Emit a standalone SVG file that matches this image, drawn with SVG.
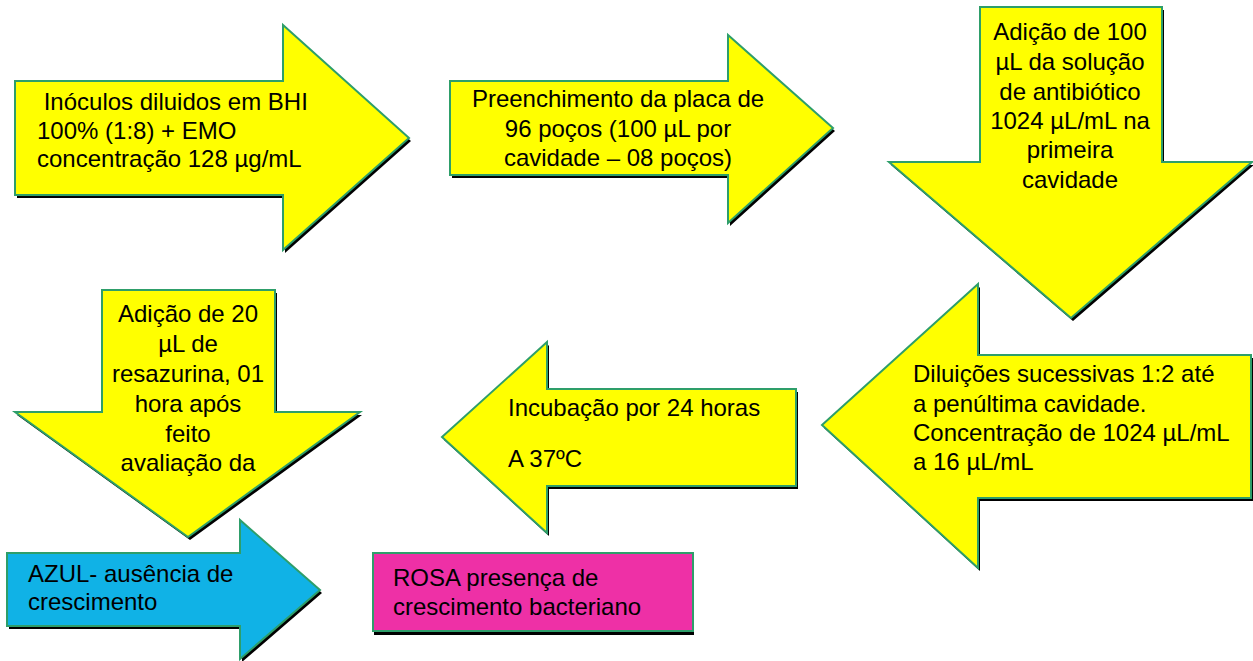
<svg xmlns="http://www.w3.org/2000/svg" xmlns:xlink="http://www.w3.org/1999/xlink" width="1253" height="661" viewBox="0 0 1253 661">
<style>
.sh{fill:#000;stroke:none}
.y{fill:#ffff00;stroke:#2e9e6a;stroke-width:2;stroke-linejoin:miter}
.b{fill:#10b2e6;stroke:#2e9e6a;stroke-width:2}
.p{fill:#ee30a6;stroke:#2e9e6a;stroke-width:2}
text{font-family:"Liberation Sans",Arial,sans-serif;font-size:24px;fill:#000}
.c{text-anchor:middle}
</style>
<defs>
<polygon id="a1" points="15,81 283,81 283,25 409,138 283,250 283,195 15,195"/>
<polygon id="a2" points="450,81 728,81 728,35 833,128 728,223 728,175 450,175"/>
<polygon id="a3" points="980,7 1162,7 1162,162 1252,162 1071,318 889,162 980,162"/>
<polygon id="a4" points="1251,355 978,355 978,284 822,425 978,568 978,498 1251,498"/>
<polygon id="a5" points="796,389 547,389 547,342 442,437 547,533 547,486 796,486"/>
<polygon id="a6" points="102,290 275,290 275,412 360,412 188,537 15,412 102,412"/>
<polygon id="a7" points="7,553 240,553 240,520 320,590 240,659 240,626 7,626"/>
<rect id="r1" x="373" y="553" width="320" height="78"/>
</defs>
<rect width="1253" height="661" fill="#fff"/>
<g id="connectors"></g>
<g id="node1">
<use xlink:href="#a1" href="#a1" class="sh" transform="translate(2,3)"/>
<use xlink:href="#a1" href="#a1" class="y"/>
<text x="37" y="110" xml:space="preserve"> Inóculos diluidos em BHI</text>
<text x="37" y="139">100% (1:8) + EMO</text>
<text x="37" y="167">concentração 128 µg/mL</text>
</g>
<g id="node2">
<use xlink:href="#a2" href="#a2" class="sh" transform="translate(2,3)"/>
<use xlink:href="#a2" href="#a2" class="y"/>
<text class="c" x="618" y="107">Preenchimento da placa de</text>
<text class="c" x="618" y="137">96 poços (100 µL por</text>
<text class="c" x="618" y="166">cavidade – 08 poços)</text>
</g>
<g id="node3">
<use xlink:href="#a3" href="#a3" class="sh" transform="translate(2,3)"/>
<use xlink:href="#a3" href="#a3" class="y"/>
<text class="c" x="1070" y="40">Adição de 100</text>
<text class="c" x="1070" y="70">µL da solução</text>
<text class="c" x="1070" y="100">de antibiótico</text>
<text class="c" x="1070" y="129">1024 µL/mL na</text>
<text class="c" x="1070" y="158">primeira</text>
<text class="c" x="1070" y="188">cavidade</text>
</g>
<g id="node4">
<use xlink:href="#a4" href="#a4" class="sh" transform="translate(2,3)"/>
<use xlink:href="#a4" href="#a4" class="y"/>
<text x="913" y="382">Diluições sucessivas 1:2 até</text>
<text x="913" y="412">a penúltima cavidade.</text>
<text x="913" y="441">Concentração de 1024 µL/mL</text>
<text x="913" y="470">a 16 µL/mL</text>
</g>
<g id="node5">
<use xlink:href="#a5" href="#a5" class="sh" transform="translate(2,3)"/>
<use xlink:href="#a5" href="#a5" class="y"/>
<text x="508" y="416">Incubação por 24 horas</text>
<text x="508" y="467">A 37ºC</text>
</g>
<g id="node6">
<use xlink:href="#a6" href="#a6" class="sh" transform="translate(2,3)"/>
<use xlink:href="#a6" href="#a6" class="y"/>
<text class="c" x="188" y="322">Adição de 20</text>
<text class="c" x="188" y="352">µL de</text>
<text class="c" x="188" y="382">resazurina, 01</text>
<text class="c" x="188" y="412">hora após</text>
<text class="c" x="188" y="442">feito</text>
<text class="c" x="188" y="471">avaliação da</text>
</g>
<g id="node7">
<use xlink:href="#a7" href="#a7" class="sh" transform="translate(2,3)"/>
<use xlink:href="#a7" href="#a7" class="b"/>
<text x="28" y="582">AZUL- ausência de</text>
<text x="28" y="610">crescimento</text>
</g>
<g id="node8">
<use xlink:href="#r1" href="#r1" class="sh" transform="translate(1,4)"/>
<use xlink:href="#r1" href="#r1" class="p"/>
<text x="393" y="586">ROSA presença de</text>
<text x="393" y="615">crescimento bacteriano</text>
</g>
</svg>
